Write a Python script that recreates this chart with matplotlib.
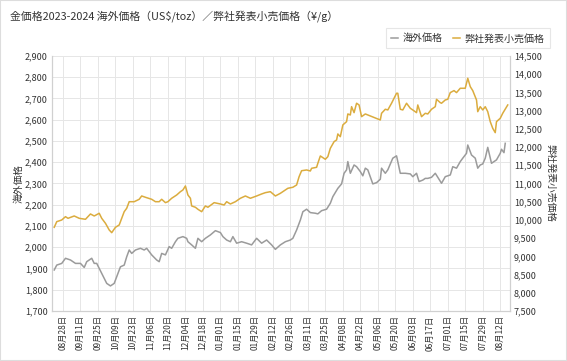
import matplotlib.pyplot as plt
from matplotlib.patches import Rectangle
from matplotlib.ticker import FuncFormatter, MultipleLocator
import pandas as pd

plt.rcParams['font.family'] = ['Noto Sans CJK JP', 'DejaVu Sans']

TITLE = "金価格2023-2024 海外価格（US$/toz）／弊社発表小売価格（¥/g）"
USD_LABEL = "海外価格"
JPY_LABEL = "弊社発表小売価格"

# 海外価格 (US$/toz)
usd_dates = [
    "2023-08-21", "2023-08-23", "2023-08-27", "2023-08-30", "2023-09-03", "2023-09-07", "2023-09-11", "2023-09-14",
    "2023-09-16", "2023-09-20", "2023-09-22", "2023-09-24", "2023-09-28", "2023-10-02", "2023-10-05", "2023-10-08",
    "2023-10-10", "2023-10-13", "2023-10-16", "2023-10-18", "2023-10-20", "2023-10-22", "2023-10-25", "2023-10-29",
    "2023-11-01", "2023-11-03", "2023-11-07", "2023-11-11", "2023-11-13", "2023-11-15", "2023-11-18", "2023-11-21",
    "2023-11-23", "2023-11-26", "2023-11-28", "2023-12-02", "2023-12-05", "2023-12-06", "2023-12-09", "2023-12-12",
    "2023-12-14", "2023-12-17", "2023-12-20", "2023-12-24", "2023-12-28", "2024-01-01", "2024-01-03", "2024-01-06",
    "2024-01-09", "2024-01-11", "2024-01-14", "2024-01-18", "2024-01-22", "2024-01-26", "2024-01-30", "2024-02-03",
    "2024-02-07", "2024-02-11", "2024-02-14", "2024-02-18", "2024-02-22", "2024-02-26", "2024-02-28", "2024-03-02",
    "2024-03-05", "2024-03-07", "2024-03-10", "2024-03-13", "2024-03-17", "2024-03-19", "2024-03-22", "2024-03-26",
    "2024-03-29", "2024-03-31", "2024-04-04", "2024-04-07", "2024-04-09", "2024-04-11", "2024-04-12", "2024-04-14",
    "2024-04-17", "2024-04-19", "2024-04-22", "2024-04-24", "2024-04-26", "2024-04-28", "2024-05-02", "2024-05-05",
    "2024-05-08", "2024-05-09", "2024-05-12", "2024-05-14", "2024-05-18", "2024-05-21", "2024-05-24", "2024-05-28",
    "2024-06-01", "2024-06-03", "2024-06-06", "2024-06-08", "2024-06-11", "2024-06-13", "2024-06-15", "2024-06-18",
    "2024-06-21", "2024-06-23", "2024-06-26", "2024-06-29", "2024-07-03", "2024-07-05", "2024-07-08", "2024-07-11",
    "2024-07-13", "2024-07-16", "2024-07-17", "2024-07-20", "2024-07-23", "2024-07-25", "2024-07-27", "2024-07-29",
    "2024-07-31", "2024-08-02", "2024-08-05", "2024-08-09", "2024-08-12", "2024-08-13", "2024-08-15", "2024-08-16",
]
usd_prices = [
    1893, 1916, 1924, 1948, 1940, 1924, 1924, 1905, 1932, 1948,
    1924, 1924, 1877, 1830, 1818, 1830, 1861, 1908, 1916, 1955,
    1987, 1971, 1987, 1995, 1987, 1995, 1964, 1940, 1932, 1971,
    1964, 2003, 1995, 2026, 2042, 2050, 2042, 2026, 2011, 1995,
    2042, 2026, 2042, 2058, 2078, 2069, 2050, 2034, 2026, 2050,
    2019, 2026, 2019, 2011, 2042, 2019, 2034, 2011, 1990, 2011,
    2026, 2034, 2042, 2081, 2128, 2167, 2179, 2163, 2160, 2157,
    2172, 2179, 2207, 2238, 2277, 2298, 2348, 2364, 2403, 2348,
    2387, 2379, 2356, 2336, 2372, 2364, 2298, 2304, 2320, 2372,
    2348, 2364, 2419, 2430, 2348, 2348, 2345, 2332, 2348, 2309,
    2316, 2324, 2324, 2329, 2348, 2329, 2301, 2332, 2340, 2379,
    2372, 2403, 2419, 2442, 2481, 2434, 2419, 2372, 2387, 2392,
    2419, 2470, 2395, 2411, 2442, 2461, 2445, 2489,
]

# 弊社発表小売価格 (¥/g)
jpy_dates = [
    "2023-08-21", "2023-08-23", "2023-08-27", "2023-08-30", "2023-09-01", "2023-09-06", "2023-09-10", "2023-09-15",
    "2023-09-19", "2023-09-22", "2023-09-26", "2023-09-28", "2023-10-01", "2023-10-04", "2023-10-06", "2023-10-09",
    "2023-10-12", "2023-10-16", "2023-10-18", "2023-10-20", "2023-10-24", "2023-10-28", "2023-10-30", "2023-11-02",
    "2023-11-07", "2023-11-10", "2023-11-13", "2023-11-15", "2023-11-18", "2023-11-20", "2023-11-23", "2023-11-27",
    "2023-11-30", "2023-12-02", "2023-12-04", "2023-12-06", "2023-12-08", "2023-12-09", "2023-12-12", "2023-12-14",
    "2023-12-17", "2023-12-20", "2023-12-22", "2023-12-27", "2024-01-01", "2024-01-04", "2024-01-06", "2024-01-09",
    "2024-01-13", "2024-01-17", "2024-01-21", "2024-01-25", "2024-01-30", "2024-02-03", "2024-02-06", "2024-02-10",
    "2024-02-14", "2024-02-18", "2024-02-22", "2024-02-24", "2024-02-28", "2024-03-02", "2024-03-04", "2024-03-06",
    "2024-03-10", "2024-03-13", "2024-03-14", "2024-03-18", "2024-03-19", "2024-03-21", "2024-03-25", "2024-03-27",
    "2024-03-29", "2024-04-01", "2024-04-03", "2024-04-04", "2024-04-06", "2024-04-08", "2024-04-11", "2024-04-12",
    "2024-04-14", "2024-04-15", "2024-04-17", "2024-04-19", "2024-04-21", "2024-04-23", "2024-04-26", "2024-05-08",
    "2024-05-09", "2024-05-12", "2024-05-14", "2024-05-17", "2024-05-21", "2024-05-22", "2024-05-24", "2024-05-26",
    "2024-05-29", "2024-06-01", "2024-06-03", "2024-06-06", "2024-06-07", "2024-06-10", "2024-06-13", "2024-06-15",
    "2024-06-18", "2024-06-21", "2024-06-22", "2024-06-25", "2024-06-26", "2024-06-29", "2024-07-01", "2024-07-03",
    "2024-07-06", "2024-07-08", "2024-07-11", "2024-07-15", "2024-07-17", "2024-07-19", "2024-07-21", "2024-07-24",
    "2024-07-25", "2024-07-27", "2024-07-29", "2024-07-31", "2024-08-02", "2024-08-04", "2024-08-06", "2024-08-08",
    "2024-08-09", "2024-08-12", "2024-08-14", "2024-08-18",
]
jpy_prices = [
    9797, 9952, 9998, 10089, 10044, 10108, 10044, 10017, 10163, 10108,
    10182, 10044, 9907, 9724, 9650, 9797, 9861, 10226, 10319, 10500,
    10500, 10566, 10657, 10621, 10566, 10500, 10500, 10566, 10474, 10500,
    10594, 10684, 10775, 10822, 10932, 10684, 10594, 10383, 10347, 10292,
    10226, 10383, 10347, 10474, 10437, 10410, 10500, 10437, 10500, 10594,
    10657, 10594, 10657, 10712, 10748, 10775, 10657, 10730, 10822, 10868,
    10896, 10959, 11187, 11350, 11371, 11343, 11417, 11444, 11554, 11755,
    11664, 11736, 11966, 12148, 12194, 12359, 12285, 12606, 12697, 12908,
    12880, 13108, 12944, 13202, 13155, 12834, 12908, 12743, 12927, 13037,
    13018, 13202, 13476, 13476, 13037, 13018, 13202, 13064, 13018, 12944,
    13155, 12834, 12927, 12908, 13037, 13108, 13311, 13218, 13202, 13292,
    13311, 13494, 13549, 13494, 13613, 13613, 13888, 13658, 13549, 13292,
    12971, 13108, 13018, 13108, 12971, 12697, 12514, 12395, 12697, 12789,
    12927, 13155,
]

tick_dates = pd.date_range("2023-08-28", "2024-08-12", freq="14D")
tick_labels = [d.strftime("%m月%d日") for d in tick_dates]

GRAY = "#9b9b9b"
GOLD = "#dbac3e"
GRID = "#e6e6e6"
TEXT = "#333333"

fig = plt.figure(figsize=(5.67, 3.61), dpi=100)
ax = fig.add_axes([0.0917, 0.1385, 0.8073, 0.7065])
ax2 = ax.twinx()

line_usd, = ax.plot(pd.to_datetime(usd_dates), usd_prices, color=GRAY, lw=1.1, label=USD_LABEL)
line_jpy, = ax2.plot(pd.to_datetime(jpy_dates), jpy_prices, color=GOLD, lw=1.1, label=JPY_LABEL)

# x 軸
x0 = pd.Timestamp("2023-08-28")
ax.set_xlim(x0 - pd.Timedelta(days=8.8), x0 + pd.Timedelta(days=357.6))
ax.set_xticks(tick_dates)
ax.set_xticklabels(tick_labels, rotation=90, fontsize=6, color=TEXT)

# y 軸
ax.set_ylim(1700, 2900)
ax.yaxis.set_major_locator(MultipleLocator(100))
ax.yaxis.set_major_formatter(FuncFormatter(lambda v, p: f"{int(v):,}"))
ax2.set_ylim(7500, 14500)
ax2.yaxis.set_major_locator(MultipleLocator(500))
ax2.yaxis.set_major_formatter(FuncFormatter(lambda v, p: f"{int(v):,}"))

for a in (ax, ax2):
    a.tick_params(length=0, labelsize=6.5, colors=TEXT, pad=3)
    for side in ("left", "right", "bottom"):
        a.spines[side].set_color("#d0d0d0")
        a.spines[side].set_linewidth(0.8)
    a.spines["top"].set_visible(False)
ax.tick_params(axis="x", labelsize=6, pad=3)

ax.grid(True, color=GRID, lw=0.7)
ax.set_axisbelow(True)

ax.set_ylabel(USD_LABEL, fontsize=7, color=TEXT, labelpad=1)
ax2.set_ylabel(JPY_LABEL, fontsize=7, color=TEXT, rotation=270, labelpad=10)

fig.text(0.018, 0.955, TITLE, fontsize=7.8, color=TEXT, va="center", ha="left")

leg = fig.legend(handles=[line_usd, line_jpy], loc="upper right", bbox_to_anchor=(0.978, 0.935),
                 fontsize=7.2, frameon=True, fancybox=False, handlelength=0.7, handletextpad=0.5,
                 columnspacing=1.0, ncol=2, borderpad=0.5)
leg.get_frame().set_edgecolor("#e0e0e0")
leg.get_frame().set_linewidth(0.8)
for t in leg.get_texts():
    t.set_color(TEXT)

fig.patches.append(Rectangle((0, 0), 1, 1, transform=fig.transFigure, fill=False,
                             edgecolor="#dddddd", lw=1.5))

plt.savefig("out.png", dpi=100)
